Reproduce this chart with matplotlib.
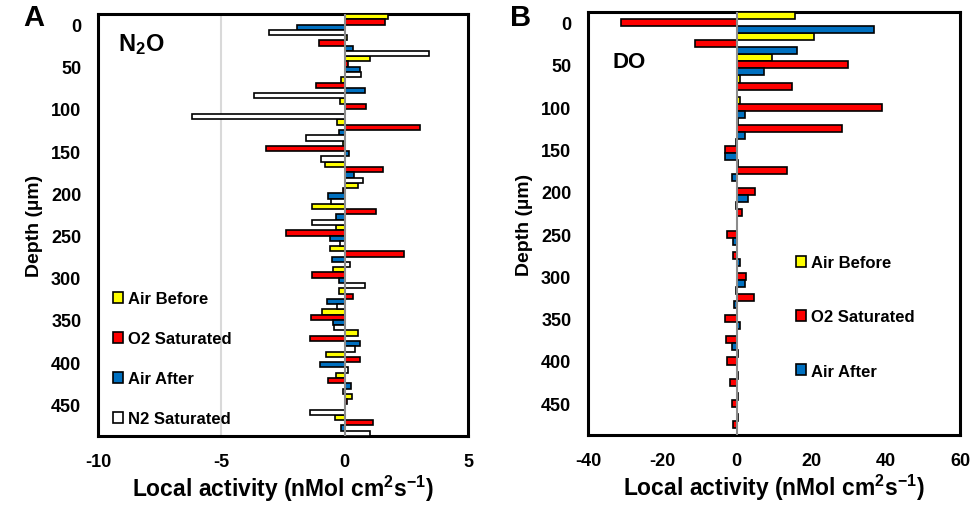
import matplotlib
matplotlib.use("Agg")
import matplotlib.pyplot as plt
import numpy as np

plt.rcParams["font.family"] = ["Liberation Sans", "DejaVu Sans"]
plt.rcParams["font.weight"] = "bold"
plt.rcParams["mathtext.default"] = "regular"
plt.rcParams["axes.unicode_minus"] = False

depth = np.arange(0, 500, 25)

# N2O panel (A)
n2o_air_before = [1.75, 0.1, 1.01, -0.14, -0.18, -0.31, -0.05, -0.8, 0.54, -1.32,
                  -0.34, -0.61, -0.47, -0.23, -0.9, 0.54, -0.77, -0.34, 0.3, -0.41]
n2o_o2_sat = [1.65, -1.04, 0.15, -1.18, 0.88, 3.04, -3.2, 1.55, -0.05, 1.26,
              -2.39, 2.39, -1.34, 0.34, -1.35, -1.42, 0.64, -0.68, 0.1, 1.15]
n2o_air_after = [-1.95, 0.34, 0.61, 0.81, 0.0, -0.23, 0.17, 0.36, -0.68, -0.34,
                 -0.61, -0.5, -0.23, -0.7, -0.47, 0.61, -0.99, 0.27, 0.0, -0.14]
n2o_n2_sat = [-3.07, 3.42, 0.68, -3.69, -6.2, -1.58, -0.96, 0.74, -0.54, -1.32,
              -0.18, 0.2, 0.81, -0.3, -0.43, 0.41, 0.14, -0.07, -1.39, 1.04]

# DO panel (B)
do_air_before = [15.6, 20.8, 9.5, 0.9, 0.9, 0.3, -0.3, 0.3, 0.0, -0.3,
                 0.0, 0.0, 0.0, -0.3, 0.0, 0.0, 0.4, 0.4, 0.4, 0.4]
do_o2_sat = [-31.0, -11.1, 29.9, 14.9, 39.0, 28.2, -3.2, 13.4, 4.8, 1.4,
             -2.7, -1.0, 2.6, 4.6, -3.1, -2.9, -2.5, -1.8, -1.4, -0.9]
do_air_after = [36.9, 16.1, 7.3, 0.0, 2.3, 2.3, -3.2, -1.3, 3.1, 0.0,
                -1.1, 0.8, 2.2, -0.8, 0.8, -1.2, 0.0, 0.0, 0.0, 0.0]

yellow, red, blue, white = "#FFFF00", "#FF0000", "#0070C0", "#FFFFFF"

fig = plt.figure(figsize=(9.77, 5.06), dpi=100)
axA = fig.add_axes([0.1003, 0.1364, 0.3787, 0.834])
axB = fig.add_axes([0.6018, 0.1383, 0.3808, 0.836])


def style(ax, xlim, xticks):
    ax.set_xlim(*xlim)
    ax.set_ylim(487.5, -12.5)
    ax.set_xticks(xticks)
    ax.set_yticks(np.arange(0, 500, 50))
    ax.tick_params(length=0, labelsize=13)
    ax.tick_params(axis="x", pad=12)
    ax.tick_params(axis="y", pad=12)
    for s in ax.spines.values():
        s.set_linewidth(2.2)
    ax.axvline(0, color="#8c8c8c", lw=1.5, zorder=5)
    ax.set_ylabel("Depth (µm)", fontsize=14, fontweight="bold", labelpad=6)
    ax.set_xlabel("Local activity (nMol cm$^2$s$^{-1}$)", fontsize=16.5,
                  fontweight="bold", labelpad=2)


# panel A
h = 25 / 4
seriesA = [("Air Before", n2o_air_before, yellow),
           ("O2 Saturated", n2o_o2_sat, red),
           ("Air After", n2o_air_after, blue),
           ("N2 Saturated", n2o_n2_sat, white)]
for i, (lab, vals, col) in enumerate(seriesA):
    axA.barh(depth + (i - 1.5) * h, vals, height=h, color=col,
             edgecolor="black", linewidth=1.2, label=lab, zorder=3)
axA.axvline(-5, color="#d9d9d9", lw=1.5, zorder=1)
style(axA, (-10, 5), [-10, -5, 0, 5])
axA.text(0.054, 0.929, "N$_2$O", transform=axA.transAxes, fontsize=17,
         fontweight="bold", va="center", ha="left")
axA.legend(loc="upper left", bbox_to_anchor=(0.04, 0.343), frameon=False,
           fontsize=12, handlelength=0.6, handleheight=0.6, handletextpad=0.3,
           labelspacing=1.5, borderpad=0, borderaxespad=0)

# panel B
h = 25 / 3
seriesB = [("Air Before", do_air_before, yellow),
           ("O2 Saturated", do_o2_sat, red),
           ("Air After", do_air_after, blue)]
for i, (lab, vals, col) in enumerate(seriesB):
    axB.barh(depth + (i - 1) * h, vals, height=h, color=col,
             edgecolor="black", linewidth=1.2, label=lab, zorder=3)
style(axB, (-40, 60), [-40, -20, 0, 20, 40, 60])
axB.text(0.065, 0.884, "DO", transform=axB.transAxes, fontsize=16,
         fontweight="bold", va="center", ha="left")
axB.legend(loc="upper left", bbox_to_anchor=(0.56, 0.425), frameon=False,
           fontsize=12, handlelength=0.6, handleheight=0.6, handletextpad=0.3,
           labelspacing=2.35, borderpad=0, borderaxespad=0)

fig.text(0.024, 0.964, "A", fontsize=21, fontweight="bold", va="center")
fig.text(0.522, 0.964, "B", fontsize=21, fontweight="bold", va="center")

fig.savefig("out.png", dpi=100)
